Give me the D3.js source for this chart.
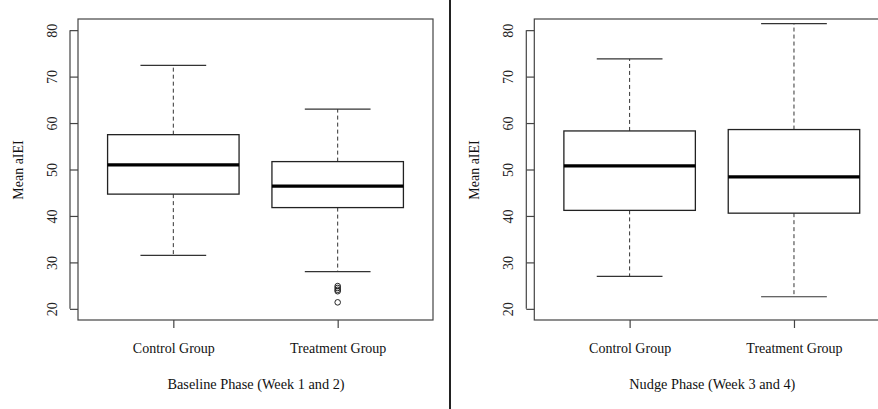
<!DOCTYPE html>
<html><head><meta charset="utf-8">
<script src="https://cdn.jsdelivr.net/npm/d3@7"></script>
<style>body{margin:0;background:#fff}svg{display:block}text{font-family:"Liberation Serif","Times New Roman",serif;fill:#111}</style>
</head><body><svg id="c" width="878" height="409"></svg>
<script>
const categories = ["Control Group", "Treatment Group"];
const yTicks = [20, 30, 40, 50, 60, 70, 80];
const yLabel = "Mean aIEI";

const baselineTitle = "Baseline Phase (Week 1 and 2)";
const baselineLow = [31.5, 28.0];
const baselineQ1 = [44.7, 41.8];
const baselineMedian = [51.0, 46.4];
const baselineQ3 = [57.5, 51.7];
const baselineHigh = [72.4, 63.0];
const baselineOutliers = [[], [24.9, 24.5, 24.1, 23.8, 21.4]];

const nudgeTitle = "Nudge Phase (Week 3 and 4)";
const nudgeLow = [27.0, 22.6];
const nudgeQ1 = [41.2, 40.6];
const nudgeMedian = [50.8, 48.4];
const nudgeQ3 = [58.3, 58.6];
const nudgeHigh = [73.8, 81.4];
const nudgeOutliers = [[], []];

const svg = d3.select("#c");
const line = "#333";

function panel(x0, title, low, q1, med, q3, high, outs) {
  const W = 355, top = 19, bottom = 320;
  const g = svg.append("g");
  const x = d3.scaleLinear().domain([0.42, 2.58]).range([x0, x0 + W]);
  const y = d3.scaleLinear().domain([17.6, 82.4]).range([bottom, top]);
  const bw = 0.4;
  g.append("rect").attr("x", x0).attr("y", top).attr("width", W).attr("height", bottom - top)
    .attr("fill", "none").attr("stroke", "#444").attr("stroke-width", 1.2);
  const ya = g.append("g").attr("transform", `translate(${x0 - 8},0)`)
    .call(d3.axisLeft(y).tickValues(yTicks).tickSize(0).tickPadding(0).tickFormat(d3.format("d")));
  ya.selectAll(".tick line").remove();
  ya.selectAll(".tick").append("line").attr("x1", 0).attr("x2", 8).attr("stroke", "#444").attr("stroke-width", 1.2);
  ya.selectAll(".tick text").attr("transform", "translate(-18,0) rotate(-90)")
    .attr("text-anchor", "middle").attr("x", 0).attr("dy", "0.35em").style("font-size", "14px").style("fill", "#222");
  ya.select(".domain").remove();
  ya.append("line").attr("x1", 0).attr("x2", 0).attr("y1", y(20)).attr("y2", y(80)).attr("stroke", "#444").attr("stroke-width", 1.2);
  g.append("text").attr("transform", `translate(${x0 - 60},170) rotate(-90)`)
    .attr("text-anchor", "middle").attr("dy", "0.35em").style("font-size", "14px").text(yLabel);
  const xa = g.append("g").attr("transform", `translate(0,${bottom})`)
    .call(d3.axisBottom(x).tickValues([1, 2]).tickSize(8).tickPadding(15).tickFormat((d, i) => categories[i]));
  xa.select(".domain").remove();
  xa.selectAll(".tick line").attr("stroke", "#444").attr("stroke-width", 1.2);
  xa.selectAll(".tick text").style("font-size", "14px").style("fill", "#111");
  g.append("text").attr("x", x0 + 178).attr("y", 384).attr("text-anchor", "middle")
    .attr("dy", "0.35em").style("font-size", "14.3px").text(title);
  categories.forEach((c, i) => {
    const cx = x(i + 1);
    const dash = "4,3";
    g.append("line").attr("x1", cx).attr("x2", cx).attr("y1", y(q3[i])).attr("y2", y(high[i]))
      .attr("stroke", line).attr("stroke-dasharray", dash);
    g.append("line").attr("x1", cx).attr("x2", cx).attr("y1", y(q1[i])).attr("y2", y(low[i]))
      .attr("stroke", line).attr("stroke-dasharray", dash);
    [high[i], low[i]].forEach(v => g.append("line").attr("x1", x(i + 1 - bw / 2)).attr("x2", x(i + 1 + bw / 2))
      .attr("y1", y(v)).attr("y2", y(v)).attr("stroke", line).attr("stroke-width", 1.2));
    g.append("rect").attr("x", x(i + 1 - bw)).attr("width", x(i + 1 + bw) - x(i + 1 - bw))
      .attr("y", y(q3[i])).attr("height", y(q1[i]) - y(q3[i]))
      .attr("fill", "#fff").attr("stroke", "#222").attr("stroke-width", 1.3);
    g.append("line").attr("x1", x(i + 1 - bw)).attr("x2", x(i + 1 + bw)).attr("y1", y(med[i])).attr("y2", y(med[i]))
      .attr("stroke", "#000").attr("stroke-width", 3.2);
    outs[i].forEach(v => g.append("circle").attr("cx", cx).attr("cy", y(v)).attr("r", 2.8)
      .attr("fill", "none").attr("stroke", "#222").attr("stroke-width", 1));
  });
}
panel(78, baselineTitle, baselineLow, baselineQ1, baselineMedian, baselineQ3, baselineHigh, baselineOutliers);
panel(534.3, nudgeTitle, nudgeLow, nudgeQ1, nudgeMedian, nudgeQ3, nudgeHigh, nudgeOutliers);
svg.append("line").attr("x1", 450).attr("x2", 450).attr("y1", 0).attr("y2", 409).attr("stroke", "#222").attr("stroke-width", 2);
</script></body></html>
